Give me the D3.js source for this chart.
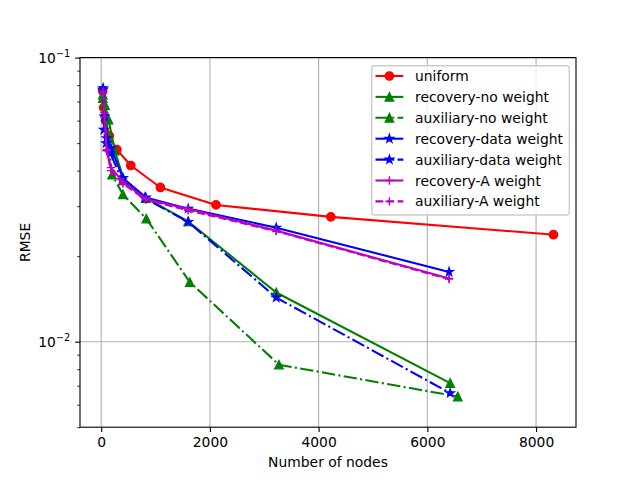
<!DOCTYPE html>
<html>
<head>
<meta charset="utf-8">
<script src="https://cdn.jsdelivr.net/npm/d3@7"></script>
<style>
  body { margin: 0; background: #fff; }
  svg { display: block; font-family: "DejaVu Sans", sans-serif; }
</style>
</head>
<body>
<svg id="chart" width="640" height="480"></svg>
<script>
// ---------------- DATA ----------------
const seriesNames = ["uniform", "recovery-no weight", "auxiliary-no weight",
  "recovery-data weight", "auxiliary-data weight", "recovery-A weight", "auxiliary-A weight"];

const uniformX = [25, 45, 81, 150, 289, 545, 1089, 2112, 4225, 8320];
const uniformY = [0.0765, 0.0667, 0.060, 0.053, 0.0474, 0.0417, 0.0349, 0.0303, 0.0275, 0.0238];

const recNoX = [30, 70, 135, 250, 420, 820, 1600, 3220, 6420];
const recNoY = [0.074, 0.068, 0.0605, 0.047, 0.037, 0.032, 0.0265, 0.0149, 0.00715];

const auxNoX = [30, 70, 130, 200, 400, 830, 1630, 3270, 6560];
const auxNoY = [0.072, 0.064, 0.052, 0.0387, 0.033, 0.0271, 0.0162, 0.0083, 0.00641];

const recDataX = [36, 60, 100, 180, 400, 820, 1600, 3220, 6400];
const recDataY = [0.078, 0.062, 0.052, 0.048, 0.0377, 0.0322, 0.0294, 0.0252, 0.0176];

const auxDataX = [30, 50, 90, 170, 380, 800, 1600, 3220, 6420];
const auxDataY = [0.077, 0.0557, 0.050, 0.046, 0.037, 0.032, 0.0264, 0.0143, 0.00659];

const recAX = [36, 60, 100, 180, 400, 820, 1600, 3220, 6400];
const recAY = [0.076, 0.064, 0.0474, 0.041, 0.0365, 0.0318, 0.0293, 0.0246, 0.0167];

const auxAX = [36, 60, 100, 180, 400, 820, 1600, 3220, 6400];
const auxAY = [0.075, 0.062, 0.047, 0.040, 0.036, 0.0316, 0.029, 0.0245, 0.0166];

const xTicks = [0, 2000, 4000, 6000, 8000];
const yMajorTicks = [0.01, 0.1];
const yMajorLabels = [["10", "\u22122"], ["10", "\u22121"]];
const yMinorTicks = [0.005, 0.006, 0.007, 0.008, 0.009, 0.02, 0.03, 0.04, 0.05, 0.06, 0.07, 0.08, 0.09];

// ---------------- STYLE ----------------
const PT = 100 / 72;
const colors = ["#ff0000", "#008000", "#008000", "#0000ff", "#0000ff", "#bf00bf", "#bf00bf"];
const markers = ["o", "^", "^", "*", "*", "+", "+"];
const lw = 1.5 * PT;
const dashDot = [6.4, 1.6, 1, 1.6].map(d => d * lw).join(",");
const dashed = [3.7, 1.6].map(d => d * lw).join(",");
const dashes = [null, null, dashDot, null, dashDot, null, dashed];

const seriesX = [uniformX, recNoX, auxNoX, recDataX, auxDataX, recAX, auxAX];
const seriesY = [uniformY, recNoY, auxNoY, recDataY, auxDataY, recAY, auxAY];

const series = seriesNames.map((name, i) => ({
  name, color: colors[i], marker: markers[i], dash: dashes[i],
  points: seriesX[i].map((x, j) => ({ x, y: seriesY[i][j] }))
}));

// ---------------- LAYOUT ----------------
const L = 80, R = 576, T = 57.6, B = 427.2;
const svg = d3.select("#chart");

const allX = seriesX.flat();
const xmin = d3.min(allX), xmax = d3.max(allX);
const pad = (xmax - xmin) * 0.05;
const x = d3.scaleLinear().domain([xmin - pad, xmax + pad]).range([L, R]);
const y = d3.scaleLog().domain([0.005, 0.1]).range([B, T]);

const gridColor = "#b0b0b0";
const fs = 10 * PT;

// grid
const grid = svg.append("g");
grid.selectAll("line.gx").data(xTicks).join("line")
  .attr("x1", d => x(d)).attr("x2", d => x(d)).attr("y1", T).attr("y2", B)
  .attr("stroke", gridColor).attr("stroke-width", 0.8 * PT);
grid.selectAll("line.gy").data(yMajorTicks).join("line")
  .attr("x1", L).attr("x2", R).attr("y1", d => y(d)).attr("y2", d => y(d))
  .attr("stroke", gridColor).attr("stroke-width", 0.8 * PT);

// clip
svg.append("clipPath").attr("id", "clip").append("rect")
  .attr("x", L).attr("y", T).attr("width", R - L).attr("height", B - T);

// marker paths
const ms = 6 * PT; // marker size in px
function markerPath(type) {
  const h = ms / 2;
  if (type === "o") {
    return d3.path().arc ? (() => { const p = d3.path(); p.arc(0, 0, h, 0, 2 * Math.PI); p.closePath(); return p.toString(); })() : "";
  }
  if (type === "^") {
    return `M0,${-h}L${-h},${h}L${h},${h}Z`;
  }
  if (type === "*") {
    const ri = h * 0.381966;
    let s = "";
    for (let k = 0; k < 10; k++) {
      const r = k % 2 === 0 ? h : ri;
      const a = Math.PI / 2 + k * Math.PI / 5;
      s += (k === 0 ? "M" : "L") + (r * Math.cos(a)).toFixed(3) + "," + (-r * Math.sin(a)).toFixed(3);
    }
    return s + "Z";
  }
  if (type === "+") {
    return `M${-h},0L${h},0M0,${-h}L0,${h}`;
  }
  return "";
}
function drawMarker(g, type, color, cx, cy) {
  const p = g.append("path").attr("d", markerPath(type))
    .attr("transform", `translate(${cx},${cy})`);
  if (type === "+") {
    p.attr("fill", "none").attr("stroke", color).attr("stroke-width", 1 * PT);
  } else {
    p.attr("fill", color).attr("stroke", color).attr("stroke-width", 1 * PT).attr("stroke-linejoin", "miter");
  }
}

// series
const plot = svg.append("g").attr("clip-path", "url(#clip)");
const line = d3.line().x(d => x(d.x)).y(d => y(d.y));
series.forEach(s => {
  const g = plot.append("g");
  g.append("path").datum(s.points).attr("d", line)
    .attr("fill", "none").attr("stroke", s.color).attr("stroke-width", lw)
    .attr("stroke-linecap", s.dash ? "butt" : "square").attr("stroke-linejoin", "round")
    .attr("stroke-dasharray", s.dash);
  s.points.forEach(p => drawMarker(g, s.marker, s.color, x(p.x), y(p.y)));
});

// spines
svg.append("rect").attr("x", L).attr("y", T).attr("width", R - L).attr("height", B - T)
  .attr("fill", "none").attr("stroke", "#000").attr("stroke-width", 0.8 * PT);

// x axis
const xAxis = svg.append("g").attr("transform", `translate(0,${B})`)
  .call(d3.axisBottom(x).tickValues(xTicks).tickFormat(d3.format("d"))
    .tickSize(3.5 * PT).tickPadding(3.5 * PT));
xAxis.select(".domain").remove();
xAxis.selectAll("line").attr("stroke", "#000").attr("stroke-width", 0.8 * PT);
xAxis.selectAll("text").attr("font-size", fs).attr("font-family", "DejaVu Sans").attr("fill", "#000");

// y axis minor
const yMinor = svg.append("g").attr("transform", `translate(${L},0)`)
  .call(d3.axisLeft(y).tickValues(yMinorTicks).tickFormat("").tickSize(2 * PT));
yMinor.select(".domain").remove();
yMinor.selectAll("line").attr("stroke", "#000").attr("stroke-width", 0.6 * PT);

// y axis major
const yMajor = svg.append("g").attr("transform", `translate(${L},0)`)
  .call(d3.axisLeft(y).tickValues(yMajorTicks).tickFormat("").tickSize(3.5 * PT));
yMajor.select(".domain").remove();
yMajor.selectAll("line").attr("stroke", "#000").attr("stroke-width", 0.8 * PT);
yMajorTicks.forEach((v, i) => {
  const t = svg.append("text").attr("x", L - 7 * PT).attr("y", y(v) + 5)
    .attr("text-anchor", "end").attr("font-size", fs).attr("fill", "#000");
  t.append("tspan").text(yMajorLabels[i][0]);
  t.append("tspan").attr("dy", -6).attr("font-size", fs * 0.7).text(yMajorLabels[i][1]);
});

// axis labels
svg.append("text").attr("x", (L + R) / 2).attr("y", 467).attr("text-anchor", "middle")
  .attr("font-size", fs).attr("fill", "#000").text("Number of nodes");
svg.append("text").attr("transform", `translate(30,${(T + B) / 2}) rotate(-90)`)
  .attr("text-anchor", "middle").attr("font-size", fs).attr("fill", "#000").text("RMSE");

// legend
const lg = svg.append("g");
lg.append("rect").attr("x", 371.7).attr("y", 65.7).attr("width", 197.6).attr("height", 149.3)
  .attr("rx", 2.8).attr("fill", "#fff").attr("fill-opacity", 0.8)
  .attr("stroke", "#cccccc").attr("stroke-width", 1 * PT);
series.forEach((s, i) => {
  const cy = 76 + i * 20.9;
  const g = lg.append("g");
  g.append("line").attr("x1", 375.5).attr("x2", 403.3).attr("y1", cy).attr("y2", cy)
    .attr("stroke", s.color).attr("stroke-width", lw).attr("stroke-dasharray", s.dash);
  drawMarker(g, s.marker, s.color, 389.4, cy);
  g.append("text").attr("x", 415).attr("y", cy + 5).attr("font-size", fs).attr("fill", "#000").text(s.name);
});
</script>
</body>
</html>
